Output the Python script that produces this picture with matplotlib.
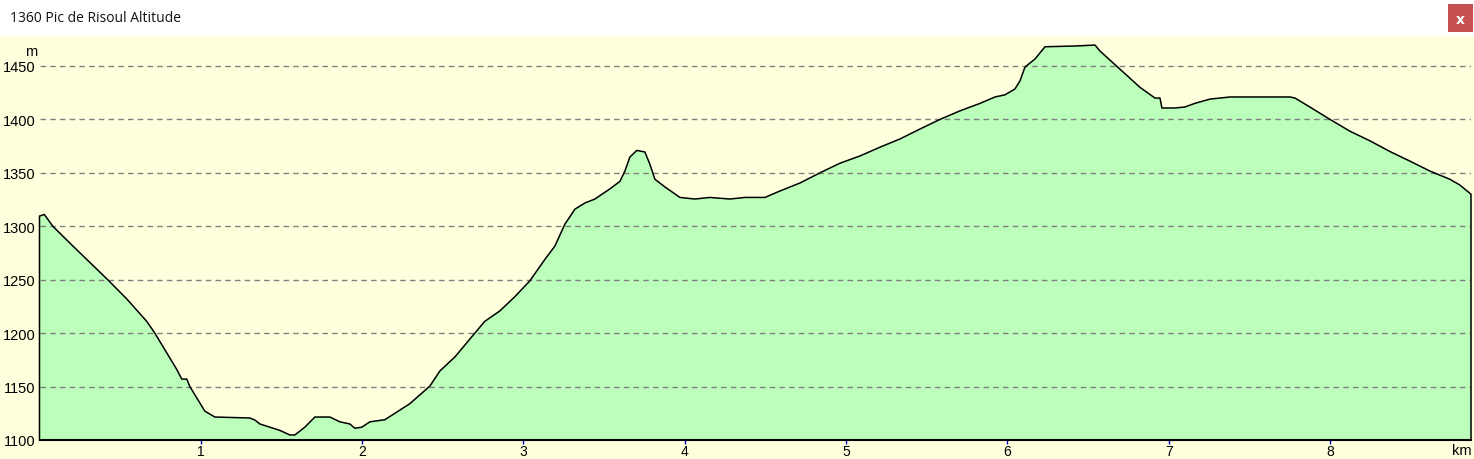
import matplotlib
matplotlib.use('Agg')
import matplotlib.pyplot as plt
from matplotlib.patches import Rectangle

# profile data (distance in km, altitude in m)
dist_km = [0.0, 0.03, 0.083, 0.207, 0.423, 0.541, 0.665, 0.715, 0.851, 0.882, 0.913,
           0.932, 1.025, 1.087, 1.304, 1.335, 1.366, 1.49, 1.552, 1.583, 1.645,
           1.707, 1.8, 1.862, 1.924, 1.955, 1.998, 2.048, 2.141, 2.203, 2.296,
           2.42, 2.482, 2.575, 2.668, 2.76, 2.853, 2.946, 3.04, 3.133, 3.195,
           3.257, 3.319, 3.381, 3.443, 3.536, 3.598, 3.629, 3.66, 3.703, 3.753,
           3.784, 3.815, 3.877, 3.97, 4.063, 4.155, 4.28, 4.373, 4.497, 4.59,
           4.714, 4.838, 4.962, 5.086, 5.21, 5.334, 5.458, 5.582, 5.706, 5.83,
           5.923, 5.985, 6.047, 6.078, 6.109, 6.171, 6.233, 6.419, 6.543, 6.574,
           6.698, 6.822, 6.915, 6.946, 6.958, 7.038, 7.1, 7.162, 7.255, 7.38,
           7.752, 7.783, 7.875, 8.0, 8.123, 8.247, 8.371, 8.495, 8.619, 8.743,
           8.805, 8.874]
alt_m = [1309.6, 1311, 1300, 1281.5, 1250, 1232, 1211, 1200, 1166, 1157, 1157,
         1150, 1127, 1121.5, 1120.6, 1118.7, 1115, 1109, 1104.7, 1104.7, 1112,
         1121.5, 1121.5, 1117, 1115, 1111, 1112, 1117, 1119, 1125, 1134,
         1150.5, 1164.6, 1177.7, 1194.5, 1211, 1220.7, 1234, 1249, 1269, 1281.5,
         1302, 1316, 1321.8, 1325.5, 1335, 1342, 1351.7, 1364.8, 1371, 1369.5,
         1358, 1344, 1336.8, 1327, 1325.5, 1327, 1325.5, 1327, 1327, 1333,
         1340.5, 1350, 1359, 1365.8, 1374, 1381.7, 1391, 1400, 1408, 1415,
         1421, 1423, 1428.5, 1436, 1449, 1456.5, 1468, 1468.7, 1469.6, 1464,
         1447, 1430, 1420, 1420, 1410.7, 1410.7, 1411.6, 1415, 1419, 1421,
         1421, 1420, 1411.6, 1400, 1389, 1380, 1370, 1361, 1351.7, 1344,
         1338.6, 1330]

x_ticks = [1, 2, 3, 4, 5, 6, 7, 8]
y_ticks = [1100, 1150, 1200, 1250, 1300, 1350, 1400, 1450]
title = '1360 Pic de Risoul Altitude'

W, H = 1474, 460
fig = plt.figure(figsize=(W / 100, H / 100), dpi=100)
fig.patch.set_facecolor('#FFFFDD')

# white title bar
fig.patches.append(Rectangle((0, 1 - 37 / H), 1, 37 / H, transform=fig.transFigure,
                             facecolor='white', edgecolor='none', zorder=-1))
fig.text(10 / W, 1 - 18 / H, title, ha='left', va='center', fontsize=10,
         family='Open Sans', color='#111111')
# close button
fig.patches.append(Rectangle((1448 / W, 1 - 33 / H), 25 / W, 28 / H,
                             transform=fig.transFigure, facecolor='#C75050',
                             edgecolor='none', zorder=1))
fig.text(1460.5 / W, 1 - 19.5 / H, 'x', ha='center', va='center', fontsize=10,
         color='white', weight='bold', family='DejaVu Sans', zorder=2)

x0, x1 = 39.5, 1471
y0, y1 = 441, 37
ax = fig.add_axes([x0 / W, 1 - y0 / H, (x1 - x0) / W, (y0 - y1) / H])
ax.set_zorder(3)
ax.set_facecolor('none')
ax.set_xlim(0, 8.874)
ax.set_ylim(1100, 1100 + (y0 - y1) / 1.0686)

poly_x = [dist_km[0]] + dist_km + [dist_km[-1]]
poly_y = [1100] + alt_m + [1100]
ax.fill(poly_x, poly_y, facecolor='#BBFFBB', edgecolor='none', zorder=1)
ax.plot(poly_x, poly_y, color='black', lw=1.1, zorder=3, clip_on=False)
ax.plot([0, 8.874], [1100, 1100], color='black', lw=1.5, zorder=3, clip_on=False)

for yv in y_ticks[1:]:
    ax.axhline(yv, color='#808080', lw=1, dashes=(4, 3), zorder=2)

for s in ax.spines.values():
    s.set_visible(False)
ax.set_xticks(x_ticks)
ax.set_xticklabels([str(v) for v in x_ticks])
ax.set_yticks(y_ticks)
ax.set_yticklabels([str(v) for v in y_ticks])
ax.tick_params(axis='x', colors='#0000CC', length=3, width=1, pad=0, labelcolor='black',
               labelsize=10)
ax.tick_params(axis='y', length=0, pad=3, labelsize=10.5)
for lab in ax.get_xticklabels() + ax.get_yticklabels():
    lab.set_family('Liberation Sans')

fig.text(1462 / W, 1 - 451 / H, 'km', ha='center', va='center', fontsize=10.5,
         family='Liberation Sans')
fig.text(31 / W, 1 - 52 / H, 'm', ha='center', va='center', fontsize=10.5,
         family='Liberation Sans')

fig.savefig('out.png', dpi=100)
